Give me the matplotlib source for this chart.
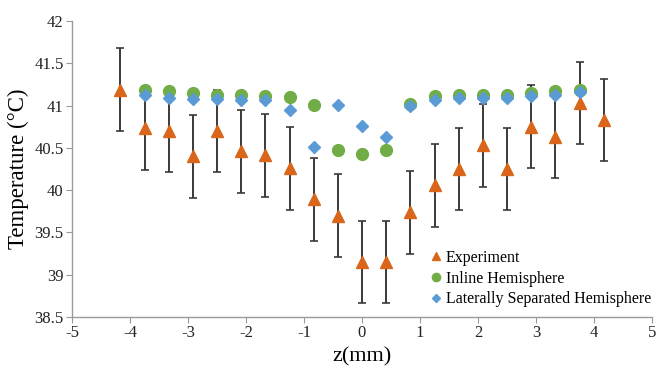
import matplotlib
matplotlib.use("Agg")
import matplotlib.pyplot as plt
from matplotlib.ticker import FuncFormatter

plt.rcParams['font.family'] = ['Liberation Serif', 'DejaVu Serif']
plt.rcParams['axes.unicode_minus'] = False

# experiment positions (mm) and temperatures
z_exp = [-4.17, -3.75, -3.33, -2.92, -2.5, -2.08, -1.67, -1.25, -0.83, -0.42, 0,
         0.42, 0.83, 1.25, 1.67, 2.08, 2.5, 2.92, 3.33, 3.75, 4.17]
t_exp = [41.19, 40.73, 40.70, 40.40, 40.70, 40.46, 40.41, 40.26, 39.89, 39.70, 39.15,
         39.15, 39.74, 40.06, 40.25, 40.53, 40.25, 40.75, 40.63, 41.03, 40.83]
err_exp = [0.49] * len(z_exp)

# simulation positions
z_sim = [-3.75, -3.33, -2.92, -2.5, -2.08, -1.67, -1.25, -0.83, -0.42, 0,
         0.42, 0.83, 1.25, 1.67, 2.08, 2.5, 2.92, 3.33, 3.75]
t_inline = [41.19, 41.17, 41.15, 41.13, 41.12, 41.115, 41.10, 41.01, 40.48, 40.43,
            40.48, 41.02, 41.11, 41.12, 41.12, 41.13, 41.15, 41.17, 41.19]
t_lateral = [41.12, 41.095, 41.075, 41.075, 41.07, 41.06, 40.95, 40.51, 41.01, 40.76,
             40.63, 40.99, 41.07, 41.09, 41.09, 41.095, 41.11, 41.13, 41.165]

fig = plt.figure(figsize=(6.56, 3.67), dpi=100)
ax = fig.add_axes([72/656, 50/367, 580/656, 296/367])

ax.errorbar(z_exp, t_exp, yerr=err_exp, fmt='none', ecolor='#3a3a3a',
            elinewidth=1.4, capsize=3, capthick=1.2, zorder=2)
ax.plot(z_exp, t_exp, linestyle='none', marker='^', markersize=9,
        color='#D9661B', label='Experiment', zorder=3)
ax.plot(z_sim, t_inline, linestyle='none', marker='o', markersize=8.5,
        color='#70AD47', label='Inline Hemisphere', zorder=4)
ax.plot(z_sim, t_lateral, linestyle='none', marker='D', markersize=6.5,
        color='#5B9BD5', label='Laterally Separated Hemisphere', zorder=5)

ax.set_xlim(-5, 5)
ax.set_ylim(38.5, 42)
ax.set_xticks(range(-5, 6))
ax.set_yticks([38.5, 39, 39.5, 40, 40.5, 41, 41.5, 42])
ax.yaxis.set_major_formatter(FuncFormatter(lambda v, p: f'{v:g}'))

for s in ['top', 'right']:
    ax.spines[s].set_visible(False)
for s in ['left', 'bottom']:
    ax.spines[s].set_color('#9a9a9a')
    ax.spines[s].set_linewidth(1)
ax.tick_params(axis='both', direction='out', length=4, color='#9a9a9a',
               labelsize=12, labelcolor='#222222', pad=2)

ax.set_xlabel('z(mm)', fontsize=16, labelpad=4)
ax.set_ylabel('Temperature (°C)', fontsize=16.5, labelpad=4)

ax.legend(loc='lower right', bbox_to_anchor=(1.015, 0.0), frameon=False,
          fontsize=11.5, handletextpad=0.0, labelspacing=0.3, handlelength=1.2,
          borderaxespad=0.2, markerscale=0.7)

fig.savefig('out.png', dpi=100)
